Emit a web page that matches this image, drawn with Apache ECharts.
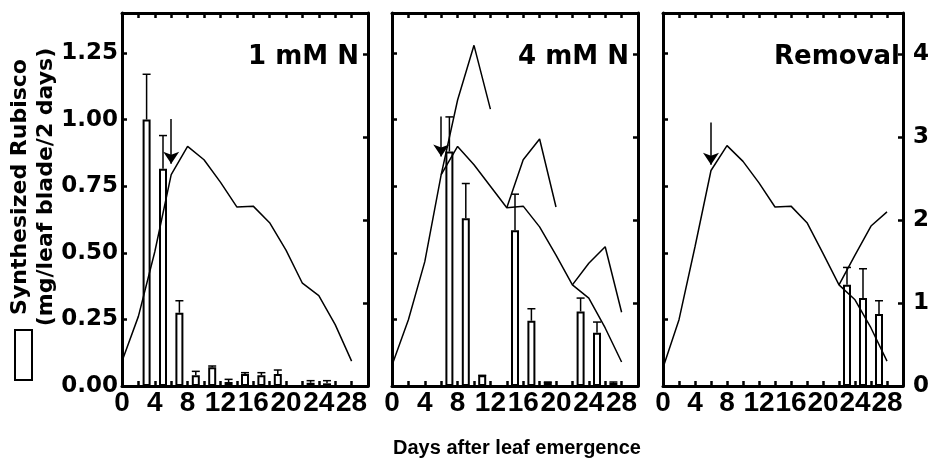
<!DOCTYPE html>
<html>
<head>
  <meta charset="utf-8">
  <title>Synthesized Rubisco</title>
  <script src="https://cdn.jsdelivr.net/npm/echarts/dist/echarts.min.js"></script>
  <style>
    html, body { margin: 0; padding: 0; background: #fff; }
    #chart { width: 932px; height: 467px; }
  </style>
</head>
<body>
  <div id="chart"></div>
  <script>
    // tick labels
    var xLabels = [0, 4, 8, 12, 16, 20, 24, 28];
    var leftLabels = [0, 0.25, 0.5, 0.75, 1.0, 1.25];
    var rightLabels = [0, 1, 2, 3, 4];
    var panelNames = ['1 mM N', '4 mM N', 'Removal'];

    // Rubisco content lines (right axis), every 2 days
    var lineDays = [0, 2, 4, 6, 8, 10, 12, 14, 16, 18, 20, 22, 24, 26, 28];
    var content1mM = [0.30, 0.84, 1.62, 2.55, 2.89, 2.73, 2.46, 2.16, 2.17, 1.97, 1.64, 1.24, 1.09, 0.74, 0.30];
    var content4mM = [0.25, 0.80, 1.50, 2.55, 2.89, 2.67, 2.41, 2.15, 2.17, 1.92, 1.58, 1.22, 1.06, 0.70, 0.29];
    var contentRemoval = [0.22, 0.80, 1.68, 2.60, 2.90, 2.71, 2.45, 2.16, 2.17, 1.97, 1.60, 1.22, 1.04, 0.70, 0.30];

    // branches in the 4 mM N and Removal panels
    var branch4mMa = [[6, 2.55], [8, 3.45], [10, 4.11], [12, 3.34]];
    var branch4mMb = [[14, 2.15], [16, 2.73], [18, 2.98], [20, 2.16]];
    var branch4mMc = [[22, 1.22], [24, 1.48], [26, 1.68], [28, 0.89]];
    var branchRemoval = [[22, 1.22], [24, 1.58], [26, 1.93], [28, 2.10]];

    // synthesized Rubisco bars (left axis) with upper error
    var barDays1mM = [3, 5, 7, 9, 11, 13, 15, 17, 19, 23, 25];
    var synth1mM = [1.00, 0.815, 0.275, 0.04, 0.07, 0.015, 0.045, 0.04, 0.045, 0.012, 0.01];
    var synthErr1mM = [1.17, 0.94, 0.32, 0.055, 0.075, 0.025, 0.05, 0.05, 0.06, 0.02, 0.02];

    var barDays4mM = [7, 9, 11, 15, 17, 19, 23, 25, 27];
    var synth4mM = [0.88, 0.63, 0.04, 0.585, 0.245, 0.015, 0.28, 0.20, 0.012];
    var synthErr4mM = [1.01, 0.76, 0.04, 0.72, 0.29, 0.015, 0.33, 0.24, 0.015];

    var barDaysRemoval = [23, 25, 27];
    var synthRemoval = [0.38, 0.33, 0.27];
    var synthErrRemoval = [0.445, 0.44, 0.32];

    // arrows: [day, from, to] on the right axis
    var arrows = [[6, 3.22, 2.68], [6, 3.25, 2.77], [6, 3.18, 2.67]];

    var gridLeft = [122, 392, 663];
    var gridTop = 13, gridW = 246, gridH = 373;

    function pairs(xs, ys) { return xs.map(function (x, i) { return [x, ys[i]]; }); }
    function triples(xs, ys, es) { return xs.map(function (x, i) { return [x, ys[i], es[i]]; }); }

    var panels = [
      { line: content1mM, branches: [], days: barDays1mM, synth: synth1mM, err: synthErr1mM },
      { line: content4mM, branches: [branch4mMa, branch4mMb, branch4mMc], days: barDays4mM, synth: synth4mM, err: synthErr4mM },
      { line: contentRemoval, branches: [branchRemoval], days: barDaysRemoval, synth: synthRemoval, err: synthErrRemoval }
    ];

    var frame = { show: true, onZero: false, lineStyle: { color: '#000', width: 3 } };
    var tick = { inside: true, length: 5, lineStyle: { color: '#000', width: 2.5 } };

    var grids = [], xAxes = [], yAxes = [], series = [], graphics = [];

    panels.forEach(function (p, i) {
      grids.push({ left: gridLeft[i], top: gridTop, width: gridW, height: gridH });
      // bottom x axis
      xAxes.push({
        gridIndex: i, type: 'value', position: 'bottom', min: 0, max: 30, interval: 2,
        axisLine: frame, axisTick: tick, splitLine: { show: false },
        axisLabel: {
          color: '#000', fontSize: 28, fontWeight: 'bold', fontFamily: 'Liberation Sans', margin: 3,
          formatter: function (v) { return xLabels.indexOf(v) >= 0 ? String(v) : ''; }
        }
      });
      // top x axis (ticks only)
      xAxes.push({
        gridIndex: i, type: 'value', position: 'top', min: 0, max: 30, interval: 2,
        axisLine: frame, axisTick: tick, splitLine: { show: false }, axisLabel: { show: false }
      });
      // left y axis
      yAxes.push({
        gridIndex: i, type: 'value', position: 'left', min: 0, max: 1.4, interval: 0.25,
        axisLine: frame, axisTick: tick, splitLine: { show: false },
        axisLabel: {
          show: i === 0, color: '#000', fontSize: 23, fontWeight: 'bold', fontFamily: 'DejaVu Sans', margin: 4,
          formatter: function (v) { return leftLabels.indexOf(v) >= 0 ? v.toFixed(2) : ''; }
        }
      });
      // right y axis
      yAxes.push({
        gridIndex: i, type: 'value', position: 'right', min: 0, max: 4.5, interval: 1,
        axisLine: frame, axisTick: tick, splitLine: { show: false },
        axisLabel: {
          show: i === 2, color: '#000', fontSize: 23, fontWeight: 'bold', fontFamily: 'DejaVu Sans', margin: 10,
          formatter: function (v) { return rightLabels.indexOf(v) >= 0 ? String(v) : ''; }
        }
      });

      var xb = i * 2, yl = i * 2, yr = i * 2 + 1;

      series.push({
        type: 'bar', xAxisIndex: xb, yAxisIndex: yl, barWidth: 8, z: 2,
        itemStyle: { color: '#fff', borderColor: '#000', borderWidth: 2 },
        data: pairs(p.days, p.synth)
      });
      series.push({
        type: 'custom', xAxisIndex: xb, yAxisIndex: yl, z: 3,
        data: triples(p.days, p.synth, p.err),
        renderItem: function (params, api) {
          var a = api.coord([api.value(0), api.value(1)]);
          var b = api.coord([api.value(0), api.value(2)]);
          return {
            type: 'group', children: [
              { type: 'line', shape: { x1: a[0], y1: a[1], x2: b[0], y2: b[1] }, style: { stroke: '#000', lineWidth: 1.5 } },
              { type: 'line', shape: { x1: b[0] - 4, y1: b[1], x2: b[0] + 4, y2: b[1] }, style: { stroke: '#000', lineWidth: 1.5 } }
            ]
          };
        }
      });
      var ar = arrows[i];
      series.push({
        type: 'line', xAxisIndex: xb, yAxisIndex: yr, z: 4,
        showSymbol: false, lineStyle: { color: '#000', width: 1.5 },
        data: pairs(lineDays, p.line),
        markLine: {
          silent: true, symbol: ['none', 'arrow'], symbolSize: 12,
          label: { show: false },
          lineStyle: { color: '#000', width: 1.5, type: 'solid' },
          data: [[{ coord: [ar[0], ar[1]] }, { coord: [ar[0], ar[2]] }]]
        }
      });
      p.branches.forEach(function (b) {
        series.push({
          type: 'line', xAxisIndex: xb, yAxisIndex: yr, z: 4,
          showSymbol: false, lineStyle: { color: '#000', width: 1.5 },
          data: b
        });
      });

      graphics.push({
        type: 'text', x: gridLeft[i] + gridW - 9, y: 57,
        style: { text: panelNames[i], font: 'bold 26px "DejaVu Sans"', fill: '#000', textAlign: 'right', textVerticalAlign: 'middle' }
      });
    });

    graphics.push({
      type: 'text', x: 33, y: 187, rotation: Math.PI / 2,
      style: { text: 'Synthesized Rubisco\n(mg/leaf blade/2 days)', font: 'bold 22px "DejaVu Sans"', lineHeight: 26, fill: '#000', textAlign: 'center', textVerticalAlign: 'middle' }
    });
    graphics.push({
      type: 'rect', shape: { x: 15, y: 330, width: 17, height: 50 },
      style: { fill: '#fff', stroke: '#000', lineWidth: 2 }
    });
    graphics.push({
      type: 'text', x: 517, y: 448,
      style: { text: 'Days after leaf emergence', font: 'bold 20px "Liberation Sans"', fill: '#000', textAlign: 'center', textVerticalAlign: 'middle' }
    });

    var myChart = echarts.init(document.getElementById('chart'));
    myChart.setOption({
      animation: false,
      backgroundColor: '#fff',
      grid: grids,
      xAxis: xAxes,
      yAxis: yAxes,
      series: series,
      graphic: graphics
    });
  </script>
</body>
</html>
